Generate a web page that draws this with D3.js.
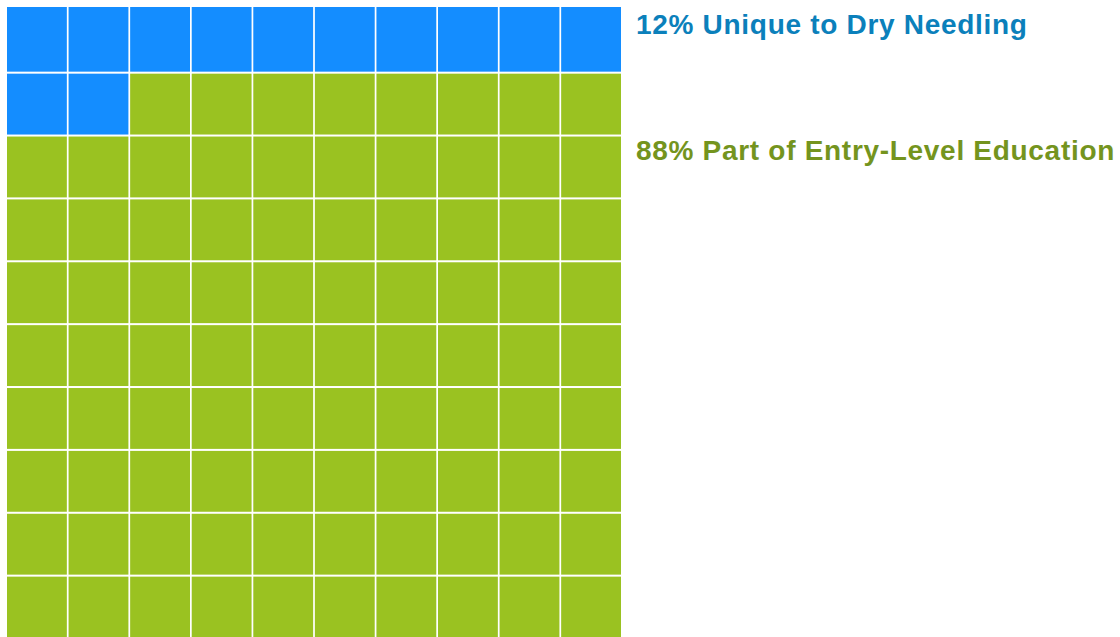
<!DOCTYPE html>
<meta charset="utf-8">
<style>
body { margin: 0; background: #fff; }
.label { font-family: "Liberation Sans", Arial, sans-serif; font-weight: bold; font-size: 28px; letter-spacing: 0.7px; }
</style>
<svg width="1120" height="637"></svg>
<script src="https://cdn.jsdelivr.net/npm/d3@7"></script>
<script>

// Data
var categories = ["Unique to Dry Needling", "Part of Entry-Level Education"],
    percents = [12, 88],
    fills = ["#148dff", "#9ac221"],
    textColors = ["#0b80bb", "#74941e"];

var svg = d3.select("svg"),
    cols = 10, rows = 10;

// one cell per percent point, filled in reading order
var cells = [];
categories.forEach(function(c, i) {
  for (var k = 0; k < percents[i]; k++) cells.push({cat: i});
});
cells.forEach(function(d, i) { d.col = i % cols; d.row = Math.floor(i / cols); });

var x = d3.scaleBand().domain(d3.range(cols)).range([7, 621]).paddingInner(0.028),
    y = d3.scaleBand().domain(d3.range(rows)).range([10.8, 637.5]).paddingInner(0.032);

// first row reaches up a bit further than the band
var gridTop = 7;

svg.selectAll(".cell")
  .data(cells)
  .enter().append("rect")
    .attr("class", "cell")
    .attr("x", function(d) { return x(d.col); })
    .attr("y", function(d) { return d.row === 0 ? gridTop : y(d.row); })
    .attr("width", x.bandwidth())
    .attr("height", function(d) { return d.row === 0 ? y(0) + y.bandwidth() - gridTop : y.bandwidth(); })
    .attr("fill", function(d) { return fills[d.cat]; });

// labels
var labelY = [34, 160];
svg.selectAll(".label")
  .data(categories)
  .enter().append("text")
    .attr("class", "label")
    .attr("x", 636)
    .attr("y", function(d, i) { return labelY[i]; })
    .attr("fill", function(d, i) { return textColors[i]; })
    .text(function(d, i) { return percents[i] + "% " + d; });

</script>
